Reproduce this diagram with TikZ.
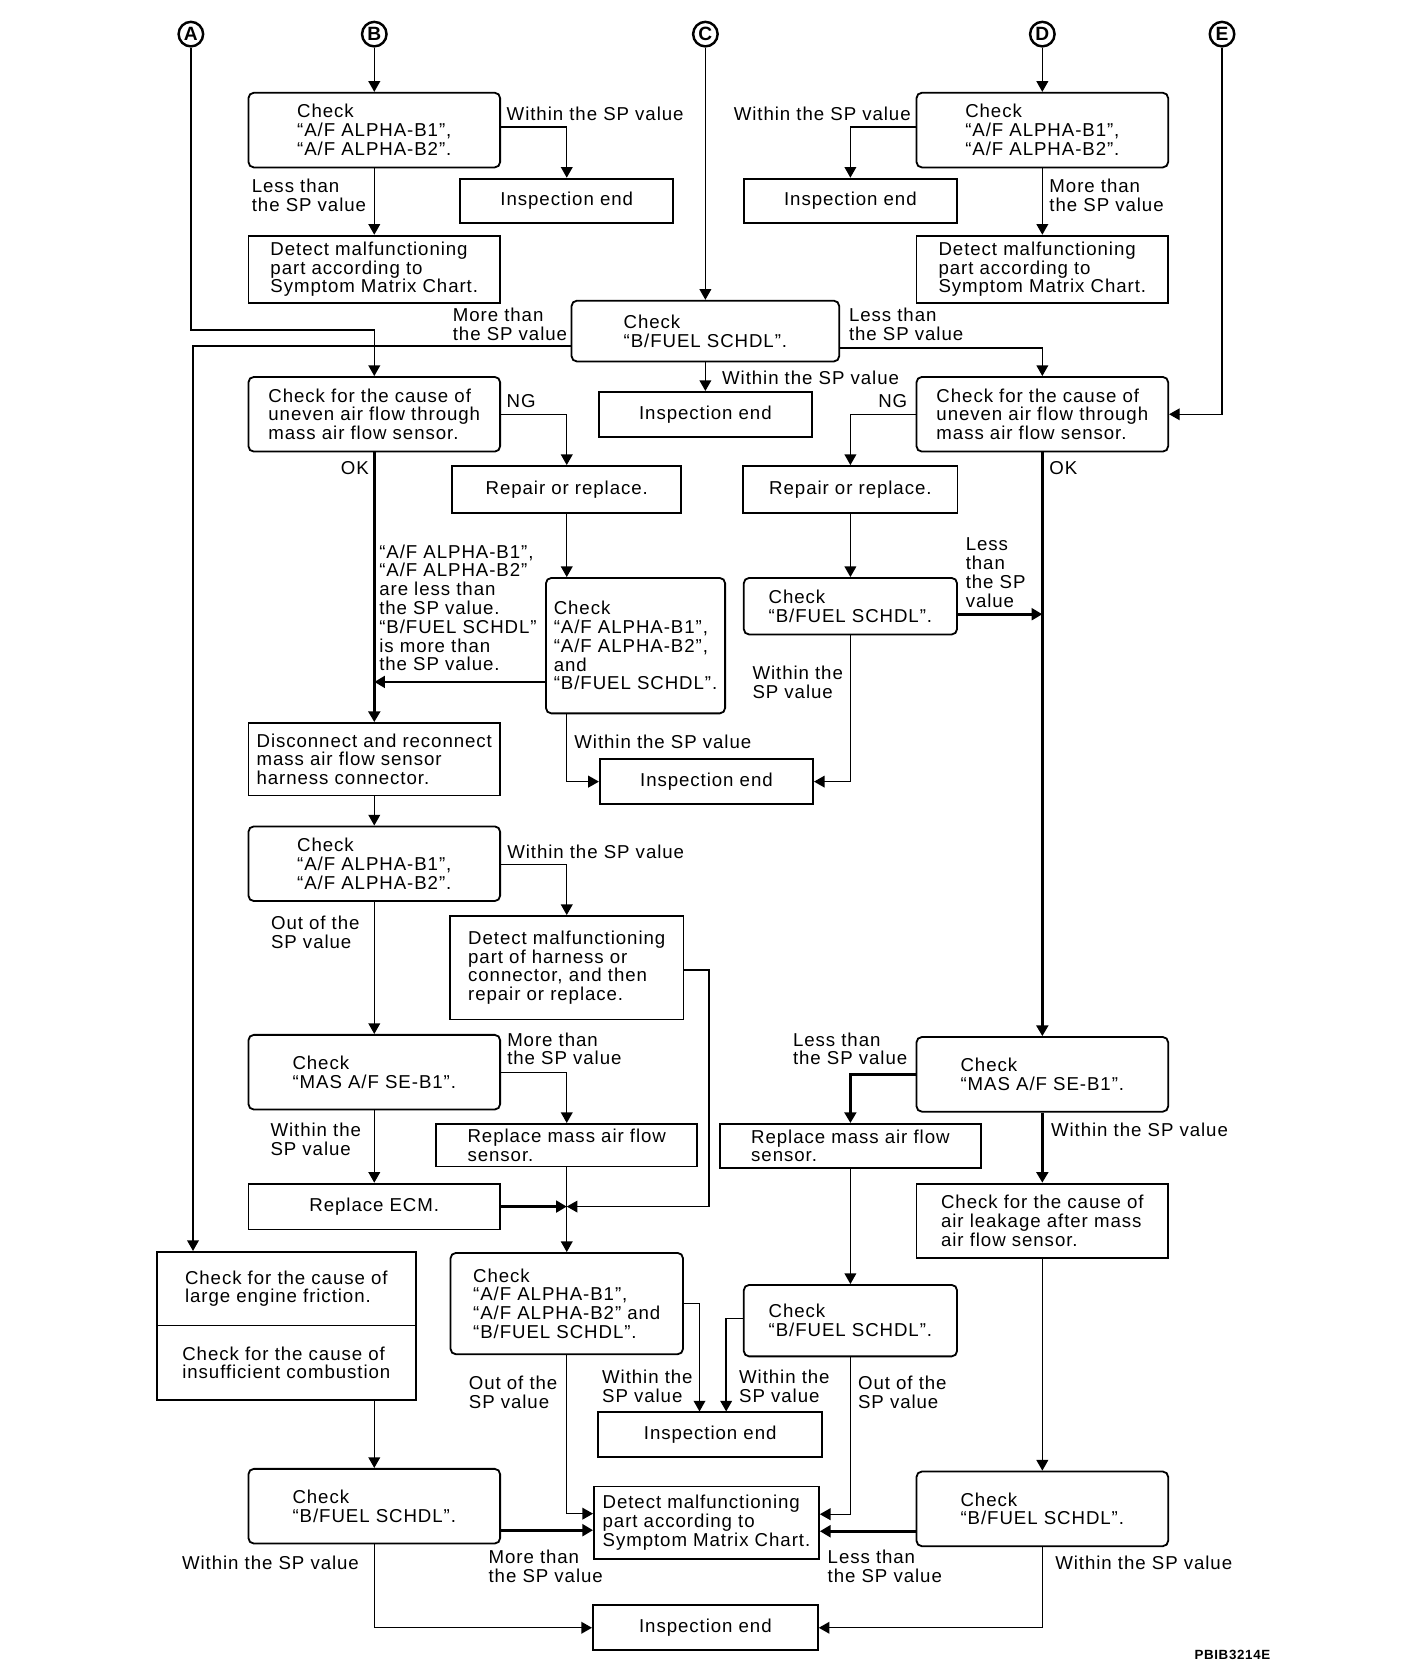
\documentclass[tikz,border=0pt]{standalone}
\usepackage{fontspec}
\setmainfont{Liberation Sans}[LetterSpace=5]
\usetikzlibrary{arrows.meta,calc}
\newcommand{\chartfont}{\fontsize{17.5pt}{17.6pt}\selectfont}

\begin{document}
\begin{tikzpicture}[x=1pt,y=-1pt,every node/.style={font=\chartfont},
  box/.style={draw,line width=1.7pt,inner sep=3pt,align=left},
  chk/.style={box,rounded corners=5pt},
  big/.style={minimum width=236pt,minimum height=70pt},
  endbox/.style={box,minimum width=200pt,minimum height=42pt},
  lbl/.style={anchor=west,align=left,inner sep=0pt},
  circ/.style={circle,draw,line width=2.3pt,inner sep=0pt,minimum size=23pt,
    font=\bfseries\fontsize{18pt}{18pt}\selectfont},
  arr/.style={line width=1.3pt,-{Triangle[width=11pt,length=10pt]}},
  arrb/.style={arr,line width=2.6pt}]
  \useasboundingbox (0,0) rectangle (1320,1568);
  \node[circ] (cA) at (179,32) {A};
  \node[circ] (cB) at (351,32) {B};
  \node[circ] (cC) at (661.5,32) {C};
  \node[circ] (cD) at (977.5,32) {D};
  \node[circ] (cE) at (1146,32) {E};
  \node[chk,big] (b1chk) at (351,122) {Check\\“A/F ALPHA-B1”,\\“A/F ALPHA-B2”.};
  \node[endbox] (b1end) at (531.5,188.5) {Inspection end};
  \node[box,minimum width=236pt,minimum height=63pt] (b1det) at (351,252.5)
    {Detect malfunctioning\\part according to\\Symptom Matrix Chart.};
  \node[chk,big] (d1chk) at (977.5,122) {Check\\“A/F ALPHA-B1”,\\“A/F ALPHA-B2”.};
  \node[endbox] (d1end) at (797.5,188.5) {Inspection end};
  \node[box,minimum width=236pt,minimum height=63pt] (d1det) at (977.5,252.5)
    {Detect malfunctioning\\part according to\\Symptom Matrix Chart.};
  \node[chk,minimum width=251pt,minimum height=57pt] (cchk) at (661.5,310.5) {Check\\“B/FUEL SCHDL”.};
  \node[endbox] (cend) at (661.5,388.5) {Inspection end};
  \node[chk,big] (lchk) at (351,388.5) {Check for the cause of\\uneven air flow through\\mass air flow sensor.};
  \node[box,minimum width=215pt,minimum height=44pt] (lrep) at (531.5,459) {Repair or replace.};
  \node[chk,big] (rchk) at (977.5,388.5) {Check for the cause of\\uneven air flow through\\mass air flow sensor.};
  \node[box,minimum width=201pt,minimum height=44pt] (rrep) at (797.5,459) {Repair or replace.};
  \node[chk,minimum width=168pt,minimum height=127pt] (lchk2) at (596,605.5)
    {Check\\“A/F ALPHA-B1”,\\“A/F ALPHA-B2”,\\and\\“B/FUEL SCHDL”.};
  \node[chk,minimum width=200pt,minimum height=53pt] (rchk2) at (797.5,568.5) {Check\\“B/FUEL SCHDL”.};
  \node[endbox] (cend2) at (662.5,733) {Inspection end};
  \node[box,minimum width=236pt,minimum height=68pt] (ldis) at (351,712)
    {Disconnect and reconnect\\mass air flow sensor\\harness connector.};
  \node[chk,big] (lchk3) at (351,810) {Check\\“A/F ALPHA-B1”,\\“A/F ALPHA-B2”.};
  \node[box,minimum width=219pt,minimum height=97pt] (lhar) at (531.5,907.5)
    {Detect malfunctioning\\part of harness or\\connector, and then\\repair or replace.};
  \node[chk,big] (lmas) at (351,1005.5) {Check\\“MAS A/F SE-B1”.};
  \node[box,minimum width=245pt,minimum height=40pt] (lrepm) at (531.5,1074) {Replace mass air flow\\sensor.};
  \node[box,minimum width=236pt,minimum height=43pt] (lecm) at (351,1131.5) {Replace ECM.};
  \node[box,minimum width=243pt,minimum height=69pt] (fric) at (268.5,1208.5)
    {Check for the cause of\\large engine friction.};
  \node[box,minimum width=243pt,minimum height=70pt] (comb) at (268.5,1278)
    {Check for the cause of\\insufficient combustion};
  \node[chk,minimum width=218pt,minimum height=95pt] (lchk4) at (531.5,1222.5)
    {Check\\“A/F ALPHA-B1”,\\“A/F ALPHA-B2” and\\“B/FUEL SCHDL”.};
  \node[endbox,minimum width=210pt] (mend) at (666,1345.5) {Inspection end};
  \node[chk,minimum width=200pt,minimum height=67pt] (rbf2) at (797.5,1238.5) {Check\\“B/FUEL SCHDL”.};
  \node[box,minimum width=211pt,minimum height=68pt] (mdet) at (662.5,1428)
    {Detect malfunctioning\\part according to\\Symptom Matrix Chart.};
  \node[chk,big] (lbf) at (351,1412.5) {Check\\“B/FUEL SCHDL”.};
  \node[chk,big] (rbf3) at (977.5,1415) {Check\\“B/FUEL SCHDL”.};
  \node[endbox,minimum width=211pt] (fend) at (661.5,1526.5) {Inspection end};
  \node[chk,big] (rmas) at (977.5,1007.5) {Check\\“MAS A/F SE-B1”.};
  \node[box,minimum width=245pt,minimum height=41pt] (rrepm) at (797.5,1074.5) {Replace mass air flow\\sensor.};
  \node[box,big] (rleak) at (977.5,1145) {Check for the cause of\\air leakage after mass\\air flow sensor.};
  \coordinate (jn) at (lrepm |- lecm);
  \node[lbl] (tb1w) at (475,107) {Within the SP value};
  \node[lbl] (tb1l) at (236,183) {Less than\\the SP value};
  \node[lbl] (td1w) at (688,107) {Within the SP value};
  \node[lbl] (td1m) at (984,183) {More than\\the SP value};
  \node[lbl] (tcm) at (424.5,304) {More than\\the SP value};
  \node[lbl] (tcl) at (796,304) {Less than\\the SP value};
  \node[lbl] (tcw) at (677,354.5) {Within the SP value};
  \node[lbl] (tlng) at (475,376.5) {NG};
  \node[lbl,anchor=east] (tlok) at (346,438.5) {OK};
  \node[lbl,anchor=east] (trng) at (851,376.5) {NG};
  \node[lbl] (trok) at (984,438.5) {OK};
  \node[lbl] (tl2) at (355.5,570) {“A/F ALPHA-B1”,\\“A/F ALPHA-B2”\\are less than\\the SP value.\\“B/FUEL SCHDL”\\is more than\\the SP value.};
  \node[lbl] (tr2l) at (905.5,537) {Less\\than\\the SP\\value};
  \node[lbl] (tl2w) at (538.5,696) {Within the SP value};
  \node[lbl] (tr2w) at (705.5,640) {Within the\\SP value};
  \node[lbl] (tl3w) at (475.5,798.5) {Within the SP value};
  \node[lbl] (tl3o) at (254,874.5) {Out of the\\SP value};
  \node[lbl] (tlmm) at (475.5,983.5) {More than\\the SP value};
  \node[lbl] (trml) at (743.5,983.5) {Less than\\the SP value};
  \node[lbl] (tlmw) at (253.5,1068.5) {Within the\\SP value};
  \node[lbl] (trmw) at (985.5,1059.5) {Within the SP value};
  \node[lbl] (tl4o) at (439.5,1306) {Out of the\\SP value};
  \node[lbl] (tl4w) at (564.5,1300) {Within the\\SP value};
  \node[lbl] (tr4w) at (693,1300) {Within the\\SP value};
  \node[lbl] (tr4o) at (804.5,1306) {Out of the\\SP value};
  \node[lbl] (tlbw) at (170.5,1465.5) {Within the SP value};
  \node[lbl] (tlbm) at (458,1469) {More than\\the SP value};
  \node[lbl] (trbl) at (776,1469) {Less than\\the SP value};
  \node[lbl] (trbw) at (989.5,1466) {Within the SP value};
  \node[lbl,font=\bfseries\fontsize{12.5pt}{12.5pt}\selectfont] (tid) at (1120,1552) {PBIB3214E};
  \draw[arr] (cB) -- (b1chk);
  \draw[arr] ([yshift=3pt]b1chk.east) -| (b1end.north);
  \draw[arr] (b1chk) -- (b1det);
  \draw[arr] (cD) -- (d1chk);
  \draw[arr] ([yshift=3pt]d1chk.west) -| (d1end.north);
  \draw[arr] (d1chk) -- (d1det);
  \draw[arr] (cC) -- (cchk);
  \draw[arr] (cchk) -- (cend);
  \draw[arr] ([yshift=-14pt]cchk.west) -| ([xshift=2pt]cA |- fric.north);
  \draw[arr] (cA) |- ([yshift=43pt]lchk.north) -- (lchk.north);
  \draw[arr] ([yshift=-16pt]cchk.east) -| (rchk.north);
  \draw[arr] (cE) |- (rchk.east);
  \draw[arr] (lchk.east) -| (lrep.north);
  \draw[arrb] (lchk) -- (ldis);
  \draw[arr] (lrep) -- (lrep |- lchk2.north);
  \draw[arrb] ([yshift=-34pt]lchk2.west) -- ([yshift=-34pt]lchk2.west -| lchk);
  \draw[arr] (lchk2.south -| lrep) |- (cend2.west);
  \draw[arr] (rchk.west) -| (rrep.north);
  \draw[arrb] (rchk) -- (rmas);
  \draw[arr] (rrep) -- (rchk2);
  \draw[arrb] ([yshift=-7.5pt]rchk2.east) -- ([yshift=-7.5pt]rchk2.east -| rchk);
  \draw[arr] (rchk2) |- (cend2.east);
  \draw[arr] (ldis) -- (lchk3);
  \draw[arr] ([yshift=-1pt]lchk3.east) -| (lhar.north);
  \draw[arr] (lchk3) -- (lmas);
  \draw[arr] ([yshift=-2pt]lhar.east) -- ++(23,0) |- (jn);
  \draw[arr] (lmas.east) -| (lrepm.north);
  \draw[arr] (lmas) -- (lecm);
  \draw[arrb] (lecm) -- (jn);
  \draw[arr] (lrepm) -- (lchk4);
  \draw[arr] (comb.south -| lbf) -- (lbf);
  \draw[arrb] ([yshift=-22.5pt]lbf.east) -- ([yshift=-22.5pt]lbf.east -| mdet.west);
  \draw[arr] (lbf) |- (fend.west);
  \draw[arr] (lchk4) |- ([yshift=8.5pt]mdet.west);
  \draw[arr] (lchk4.east) -| ([xshift=-10pt]mend.north);
  \draw[arr] ([yshift=2pt]rbf2.west) -| ([xshift=15pt]mend.north);
  \draw[arr] (rbf2) |- ([yshift=8pt]mdet.east);
  \draw[arrb] (rmas.west) -| (rrepm.north);
  \draw[arrb] (rmas) -- (rleak);
  \draw[arr] (rrepm) -- (rbf2);
  \draw[arr] (rleak) -- (rbf3);
  \draw[arrb] ([yshift=-21pt]rbf3.west) -- ([yshift=-21pt]rbf3.west -| mdet.east);
  \draw[arr] (rbf3) |- (fend.east);
\end{tikzpicture}
\end{document}
